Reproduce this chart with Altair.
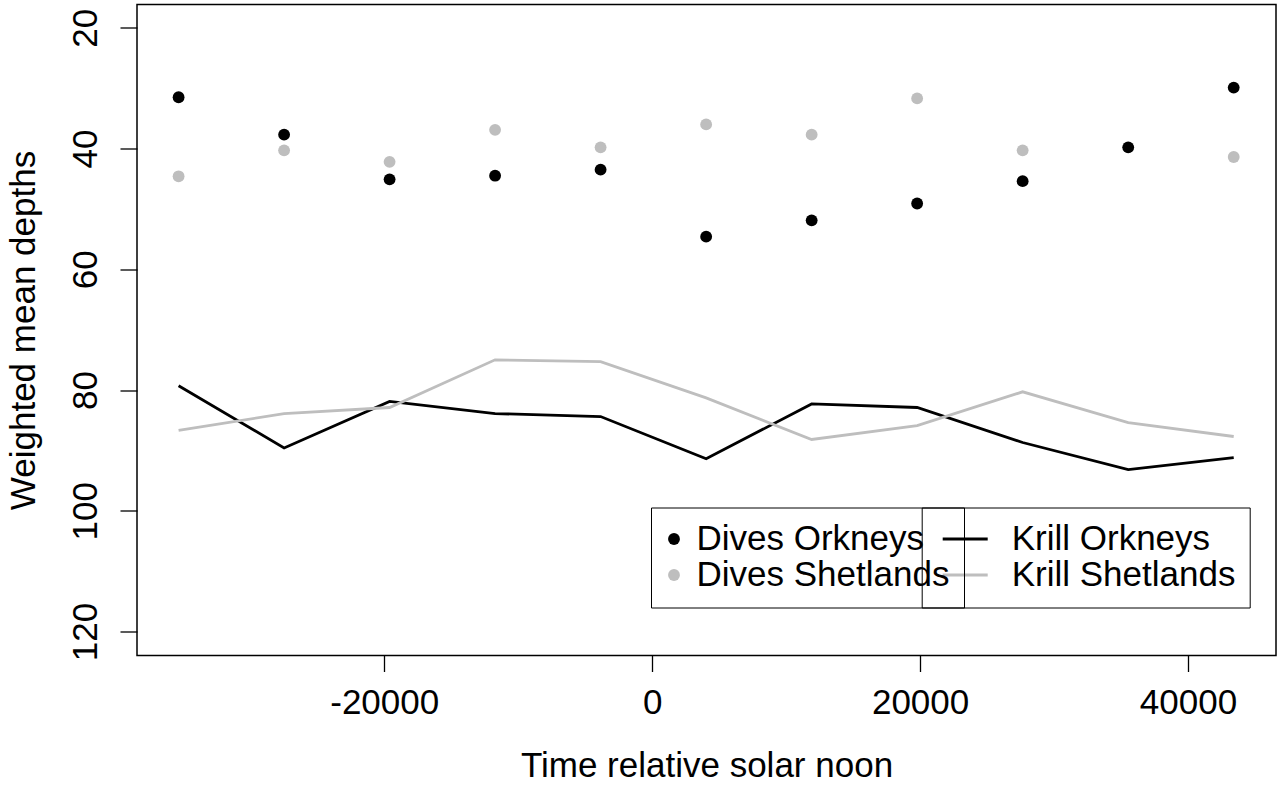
import altair as alt
import pandas as pd

# Time relative to solar noon (s)
times = [-35350, -27475, -19600, -11725, -3850, 4030, 11905, 19780, 27655, 35535, 43410]

# Weighted mean depths
dives_orkneys = [31.5, 37.7, 45.1, 44.5, 43.5, 54.6, 51.9, 49.1, 45.4, 39.8, 29.9]
dives_shetlands = [44.6, 40.3, 42.2, 36.9, 39.8, 36.0, 37.7, 31.7, 40.3, None, 41.4]
krill_orkneys = [79.3, 89.6, 81.9, 83.9, 84.4, 91.4, 82.3, 82.9, 88.7, 93.2, 91.2]
krill_shetlands = [86.7, 83.9, 82.9, 75.0, 75.3, 81.3, 88.2, 85.9, 80.3, 85.4, 87.7]

point_series = ["Dives Orkneys", "Dives Shetlands"]
line_series = ["Krill Orkneys", "Krill Shetlands"]
series_colors = ["#000000", "#bebebe"]

x_ticks = [-20000, 0, 20000, 40000]
y_ticks = [20, 40, 60, 80, 100, 120]

rows = []
for name, vals in zip(point_series, [dives_orkneys, dives_shetlands]):
    for t, v in zip(times, vals):
        if v is not None:
            rows.append({"time": t, "depth": v, "series": name})
pts = pd.DataFrame(rows)

rows = []
for name, vals in zip(line_series, [krill_orkneys, krill_shetlands]):
    for i, (t, v) in enumerate(zip(times, vals)):
        rows.append({"time": t, "depth": v, "series": name, "order": i})
lns = pd.DataFrame(rows)

FONT = "Liberation Sans"
FS = 35

x_enc = alt.X(
    "time:Q",
    scale=alt.Scale(domain=[-38455, 46567], nice=False, zero=False),
    axis=alt.Axis(
        values=x_ticks, title="Time relative solar noon", labelExpr="'' + datum.value",
        grid=False, domain=False, tickSize=16, tickWidth=1.3, tickColor="black",
        labelFontSize=FS, labelFont=FONT, labelColor="black", labelPadding=14,
        labelFlush=False, labelOverlap=False,
        titleFontSize=FS, titleFont=FONT, titleFontWeight="normal", titleColor="black",
        titleBaseline="alphabetic", titleY=120.5,
    ),
)
y_enc = alt.Y(
    "depth:Q",
    scale=alt.Scale(domain=[16.14, 123.98], nice=False, zero=False, reverse=True),
    axis=alt.Axis(
        values=y_ticks, title="Weighted mean depths",
        grid=False, domain=False, tickSize=17, tickWidth=1.3, tickColor="black",
        labelFontSize=FS, labelFont=FONT, labelColor="black", labelPadding=17,
        labelAngle=-90, labelAlign="center", labelBaseline="bottom",
        labelFlush=False, labelOverlap=False,
        titleFontSize=FS, titleFont=FONT, titleFontWeight="normal", titleColor="black",
        titleAngle=-90, titleBaseline="alphabetic", titleAlign="center",
        titleX=-103, titleY=325.5,
    ),
)

points = alt.Chart(pts).mark_circle(size=140, opacity=1).encode(
    x=x_enc,
    y=y_enc,
    fill=alt.Fill(
        "series:N",
        scale=alt.Scale(domain=point_series, range=series_colors),
        legend=alt.Legend(
            title=None, orient="none", legendX=514, legendY=503,
            strokeColor="black", padding=14, rowPadding=0,
            labelFontSize=FS, labelFont=FONT, labelColor="black", labelLimit=400,
            labelOffset=5, symbolOffset=-8.5,
            symbolType="circle", symbolSize=140, symbolStrokeWidth=0,
        ),
    ),
)

lines = alt.Chart(lns).mark_line(strokeWidth=2.8).encode(
    x=x_enc,
    y=y_enc,
    order="order:Q",
    stroke=alt.Stroke(
        "series:N",
        scale=alt.Scale(domain=line_series, range=series_colors),
        legend=alt.Legend(
            title=None, orient="none", legendX=784.7, legendY=503,
            strokeColor="black", padding=14, rowPadding=0,
            labelFontSize=FS, labelFont=FONT, labelColor="black", labelLimit=400,
            labelOffset=29, symbolOffset=12,
            symbolType="M-2,0H2", symbolSize=506.25, symbolStrokeWidth=3,
        ),
    ),
)

chart = (
    alt.layer(lines, points)
    .properties(
        width=1139, height=651,
        padding={"left": 137, "top": 4.5, "right": 2, "bottom": 131.5},
        autosize=alt.AutoSizeParams(type="none"),
    )
    .configure(font=FONT, background="white")
    .configure_view(stroke="black", strokeWidth=1.5)
)

chart.save("out.html", embed_options={"renderer": "svg", "actions": False})
